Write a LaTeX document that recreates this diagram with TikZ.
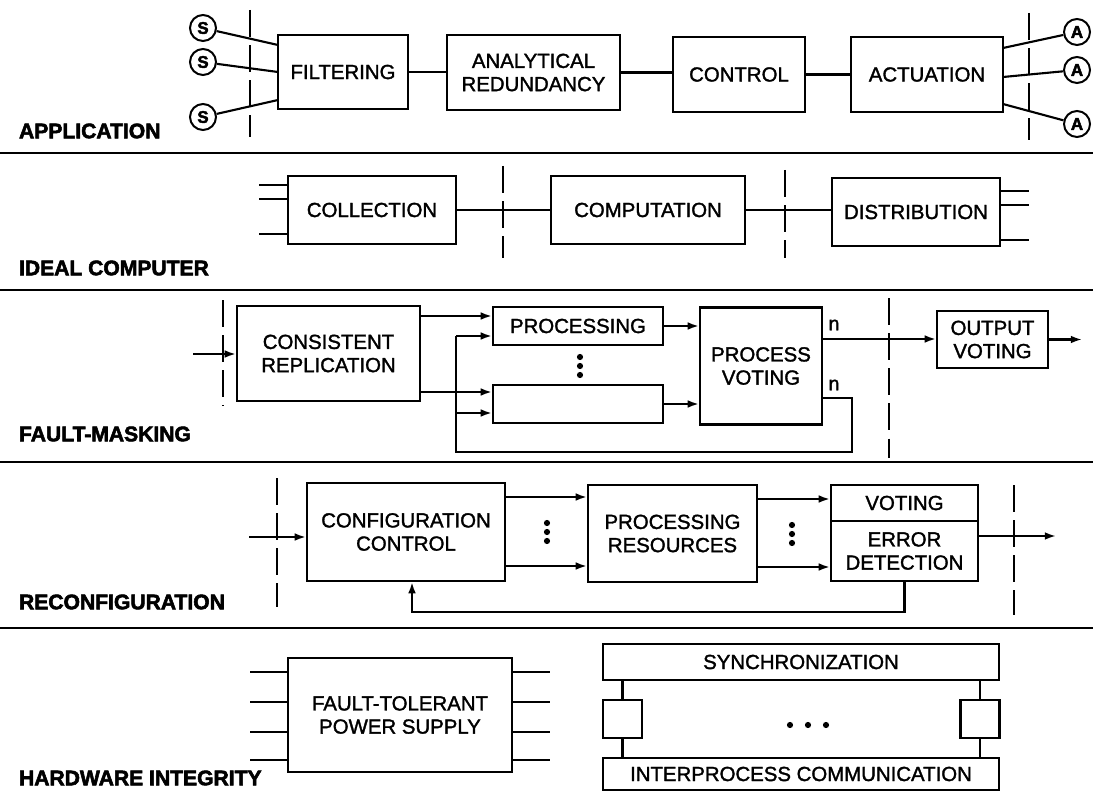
\documentclass[tikz,border=0pt]{standalone}
\usepackage{fontspec}
\setmainfont{Liberation Sans}
\newfontfamily\boxfont{Liberation Sans}[FakeBold=1.6]
\newfontfamily\rowfont{Liberation Sans}[BoldFeatures={FakeBold=2.6}]
\usetikzlibrary{arrows.meta,positioning}

\begin{document}
\begin{tikzpicture}[x=0.025cm,y=-0.025cm,line width=1.5pt,
        blk/.style={draw,rectangle,line width=1.5pt,align=center,inner sep=0pt,font=\boxfont\fontsize{14.5}{16.5}\selectfont},
        sz/.style 2 args={minimum width=#1*0.025cm,minimum height=#2*0.025cm},
        rowname/.style={anchor=west,inner sep=0pt,font=\rowfont\bfseries\fontsize{15}{17}\selectfont},
        io/.style={draw,circle,line width=1.4pt,inner sep=0pt,minimum size=0.65cm,font=\rowfont\bfseries\fontsize{12}{12}\selectfont},
        cut/.style={line width=1.1pt,dash pattern=on 19pt off 6pt},
        rule/.style={line width=1.6pt},
        arr/.style={-{Latex[length=8pt,width=5.5pt]}},
        small/.style={inner sep=0pt,font=\boxfont\fontsize{14}{14}\selectfont}]
        \useasboundingbox (0,0) rectangle (1093,801);
        % Horizontal rules
        \draw[rule] (0,153) -- (1093,153);
        \draw[rule] (0,290) -- (1093,290);
        \draw[rule] (0,462) -- (1093,462);
        \draw[rule] (0,628) -- (1093,628);
        % Row names
        \node[rowname] (lapp) at (18,131) {APPLICATION};
        \node[rowname] (lideal) at (18,268) {IDEAL COMPUTER};
        \node[rowname] (lmask) at (18,434) {FAULT-MASKING};
        \node[rowname] (lreconf) at (18,602) {RECONFIGURATION};
        \node[rowname] (lhw) at (18,778) {HARDWARE INTEGRITY};

        % Application
        \node[blk,sz={130}{74}] (filt) at (343,72) {FILTERING};
        \node[blk,sz={173}{75}] (anr) at (533.5,72.5) {ANALYTICAL\\REDUNDANCY};
        \node[blk,sz={132}{75}] (ctrl) at (739,74.5) {CONTROL};
        \node[blk,sz={152}{75}] (act) at (927,74.5) {ACTUATION};
        \draw (filt.east) -- (filt.east -| anr.west);
        \draw (anr.east) -- (anr.east -| ctrl.west);
        \draw (ctrl) -- (act);
        \node[io] (s1) at (203,28) {S};
        \node[io] (s2) at (203,62) {S};
        \node[io] (s3) at (203,117) {S};
        \coordinate (f1) at (278,45);
        \coordinate (f2) at (278,72);
        \coordinate (f3) at (278,100);
        \draw (s1) -- (f1);
        \draw (s2) -- (f2);
        \draw (s3) -- (f3);
        \node[io] (a1) at (1077,32) {A};
        \node[io] (a2) at (1077,70) {A};
        \node[io] (a3) at (1077,124) {A};
        \coordinate (c1) at (1003,48);
        \coordinate (c2) at (1003,77);
        \coordinate (c3) at (1003,104);
        \draw (c1) -- (a1);
        \draw (c2) -- (a2);
        \draw (c3) -- (a3);
        \draw[cut] (250,10) -- (250,137);
        \draw[cut] (1029,13) -- (1029,140);

        % Ideal computer
        \node[blk,sz={168}{68}] (coll) at (372,210) {COLLECTION};
        \node[blk,sz={194}{68}] (comp) at (648,210) {COMPUTATION};
        \node[blk,sz={168}{68}] (dist) at (916,212) {DISTRIBUTION};
        \draw (coll) -- (comp);
        \draw (comp.east) -- (comp.east -| dist.west);
        \foreach \y in {185,199,234} \draw (coll.west |- 0,\y) -- ++(-28,0);
        \foreach \y in {191,205,240} \draw (dist.east |- 0,\y) -- ++(28,0);
        \draw[cut] (503,166) -- (503,258);
        \draw[cut] (785,170) -- (785,258);

        % Fault-masking
        \node[blk,sz={183}{95}] (cr) at (328.5,353.5) {CONSISTENT\\REPLICATION};
        \node[blk,sz={170}{38}] (proc) at (578,326) {PROCESSING};
        \node[blk,sz={170}{38}] (low) at (578,404) {};
        \node[blk,sz={122}{117}] (pv) at (761,366) {PROCESS\\VOTING};
        \node[blk,sz={111}{57}] (ov) at (992.5,339.5) {OUTPUT\\VOTING};
        \coordinate (fmin) at (193,354);
        \draw[arr] (fmin) -- (cr.west |- fmin);
        \draw[arr] (cr.east |- 0,316) -- (proc.west |- 0,316);
        \draw[arr] (cr.east |- 0,392) -- (low.west |- 0,392);
        \coordinate (fb) at (852,452);
        \coordinate (sp) at (456,336);
        \draw (pv.east |- 0,398) -| (fb) -| (sp);
        \draw[arr] (sp) -- (proc.west |- sp);
        \draw[arr] (sp |- 0,413) -- (low.west |- 0,413);
        \draw[arr] (proc.east) -- (proc.east -| pv.west);
        \draw[arr] (low.east) -- (low.east -| pv.west);
        \draw[arr] (pv.east |- 0,339) -- (ov.west |- 0,339);
        \draw[arr] (ov.east) -- ++(33,0);
        \node[small] (n1) at (834,325) {n};
        \node[small] (n2) at (834,385) {n};
        \foreach \d in {-9,0,9} \fill (580,366+\d) circle[radius=2.2pt];
        \draw[cut] (223,300) -- (223,406);
        \draw[cut] (889,298) -- (889,458);

        % Reconfiguration
        \node[blk,sz={198}{98}] (cc) at (406,532) {CONFIGURATION\\CONTROL};
        \node[blk,sz={169}{97}] (pr) at (672.5,533.5) {PROCESSING\\RESOURCES};
        \node[blk,sz={147}{36}] (vt) at (904.5,503) {VOTING};
        \node[blk,sz={147}{60}] (ed) at (904.5,551) {ERROR\\DETECTION};
        \coordinate (rcin) at (249,537);
        \draw[arr] (rcin) -- (cc.west |- rcin);
        \draw[arr] (cc.east |- 0,497) -- (pr.west |- 0,497);
        \draw[arr] (cc.east |- 0,566) -- (pr.west |- 0,566);
        \draw[arr] (pr.east |- 0,499) -- (vt.west |- 0,499);
        \draw[arr] (pr.east |- 0,567) -- (ed.west |- 0,567);
        \draw[arr] (ed.east |- 0,536) -- ++(77,0);
        \coordinate (fbr) at (412,612);
        \draw[arr] (ed.south) |- (fbr) -- (fbr |- cc.south);
        \foreach \d in {-9,0,9} \fill (547,532+\d) circle[radius=2.2pt];
        \foreach \d in {-9,0,9} \fill (792,534+\d) circle[radius=2.2pt];
        \draw[cut] (277,478) -- (277,607);
        \draw[cut] (1014,485) -- (1014,615);

        % Hardware integrity
        \node[blk,sz={224}{114}] (ps) at (400,715) {FAULT-TOLERANT\\POWER SUPPLY};
        \foreach \y in {672,702,732,760} {
            \draw (ps.west |- 0,\y) -- ++(-37,0);
            \draw (ps.east |- 0,\y) -- ++(37,0);
        }
        \node[blk,sz={396}{36}] (sync) at (801,662) {SYNCHRONIZATION};
        \node[blk,sz={396}{32}] (ipc) at (801,774) {INTERPROCESS COMMUNICATION};
        \node[blk,sz={39}{38}] (sq1) at (622.5,719) {};
        \node[blk,sz={39}{38}] (sq2) at (980,719) {};
        \draw (sync.south -| sq1) -- (sq1);
        \draw (sq1) -- (ipc.north -| sq1);
        \draw (sync.south -| sq2) -- (sq2);
        \draw (sq2) -- (ipc.north -| sq2);
        \foreach \x in {790,808,826} \fill (\x,725) circle[radius=2.2pt];
\end{tikzpicture}
\end{document}
